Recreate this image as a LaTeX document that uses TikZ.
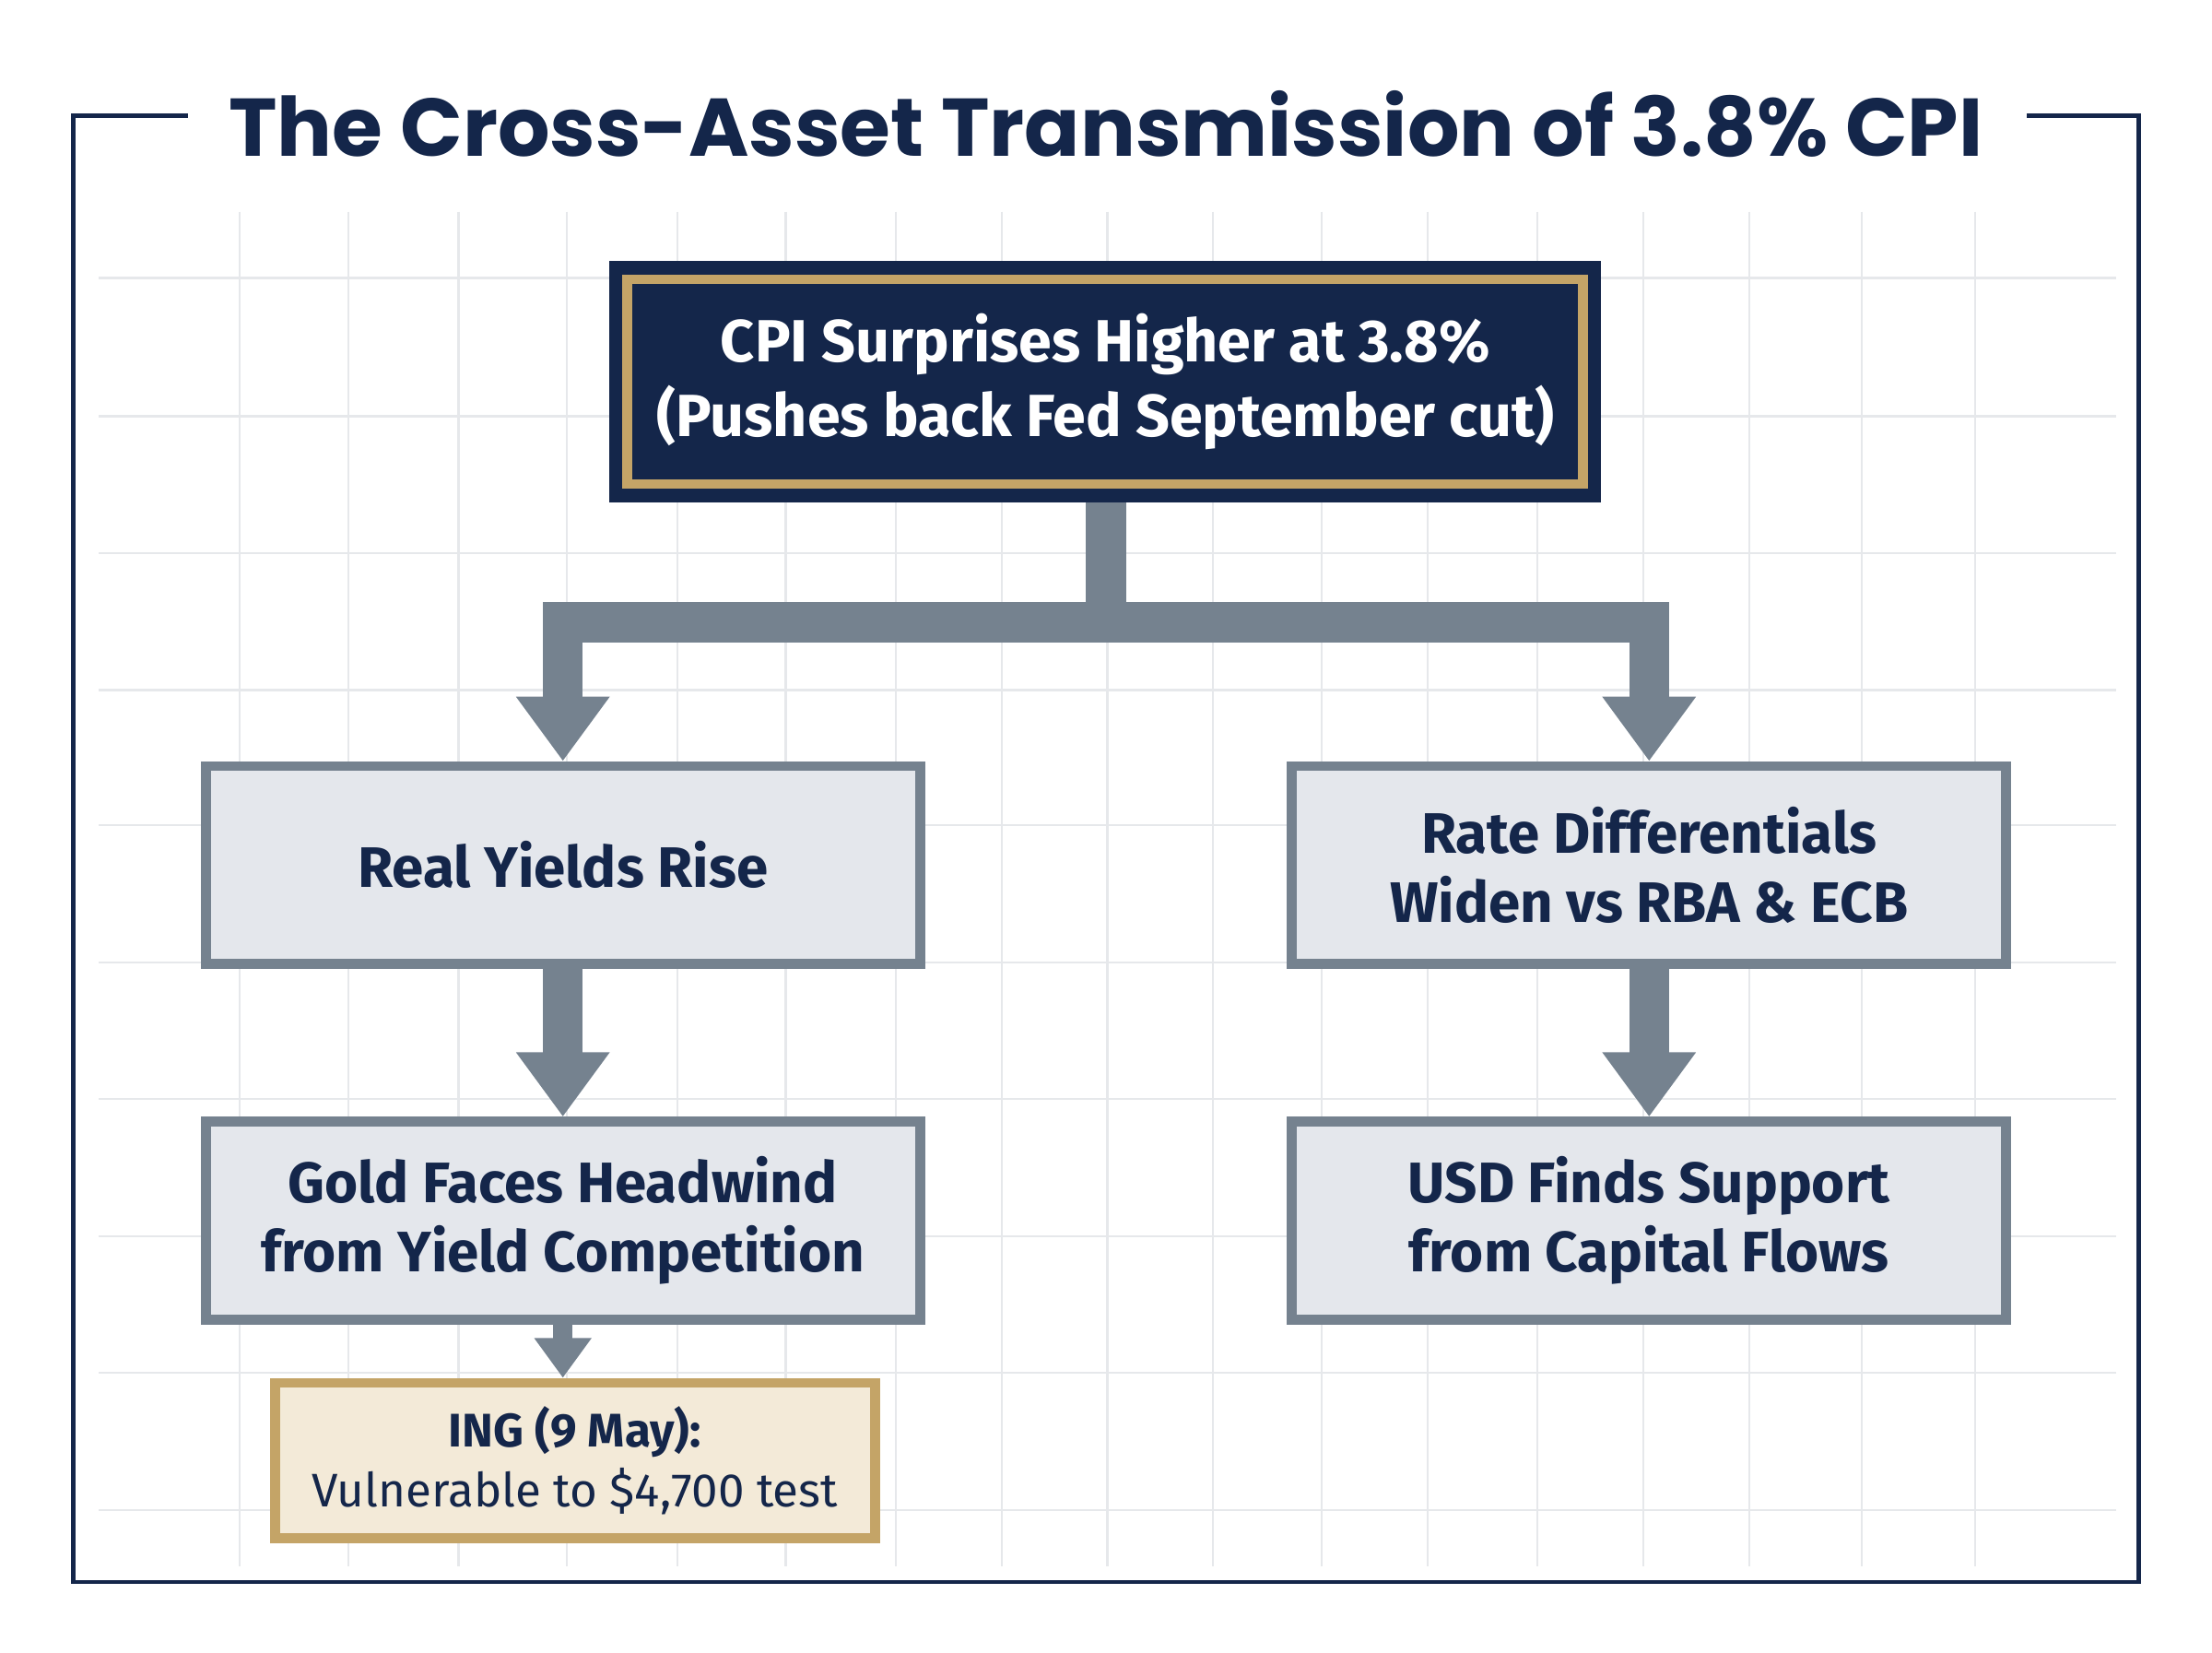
\documentclass[tikz,border=0pt]{standalone}
\usepackage{fontspec}
\setmainfont{Fira Sans}
\newfontfamily\titlefont{Poppins}
\usetikzlibrary{arrows.meta}
\definecolor{navy}{HTML}{14264A}
\definecolor{gold}{HTML}{C4A467}
\definecolor{steel}{HTML}{75828F}
\definecolor{boxfill}{HTML}{E4E7EC}
\definecolor{cream}{HTML}{F3EAD8}
\definecolor{gridc}{HTML}{E6E8EB}
\begin{document}
\begin{tikzpicture}[x=0.01cm,y=-0.01cm,
  midbox/.style={draw=steel,line width=2pt,fill=boxfill,minimum width=500\pgflinewidth,text=navy,font=\fontsize{11.5}{14}\selectfont\bfseries,align=center},
  flow/.style={draw=steel,line width=8pt},
  flowarrow/.style={flow,-{Triangle[width=18pt,length=13pt]}}]
\useasboundingbox (0,0) rectangle (1568,1171);
\fill[white] (0,0) rectangle (1568,1171);
% grid
\foreach \gx in {170,247,325,402,480,557,635,710,785,860,937,1012,1090,1165,1240,1320,1400}
  \draw[gridc,line width=0.4pt] (\gx,150) -- (\gx,1110);
\foreach \gy in {197,295,392,489,585,682,779,876,973,1070}
  \draw[gridc,line width=0.4pt] (70,\gy) -- (1500,\gy);
% frame
\draw[navy,line width=0.8pt] (133,82) -- (52,82) -- (52,1121) -- (1516,1121) -- (1516,82) -- (1437,82);
\node[text=navy,font=\titlefont\fontsize{16.5}{20}\selectfont\bfseries] (title) at (784,88) {The Cross-Asset Transmission of 3.8\% CPI};
% top box
\fill[navy] (432,185) rectangle (1135,356);
\node[draw=gold,line width=2pt,minimum width=6.77cm,minimum height=1.45cm,align=center,text=white,font=\fontsize{12}{15}\selectfont\bfseries] (top) at (783.5,270.5) {CPI Surprises Higher at 3.8\%\\(Pushes back Fed September cut)};
\coordinate (topb) at (784,356);
% mid boxes
\node[midbox,minimum width=5.06cm,minimum height=1.4cm] (ry) at (399,613) {Real Yields Rise};
\node[midbox,minimum width=5.06cm,minimum height=1.4cm] (rd) at (1169,613) {Rate Differentials\\Widen vs RBA \& ECB};
\node[midbox,minimum width=5.06cm,minimum height=1.4cm] (gold) at (399,865) {Gold Faces Headwind\\from Yield Competition};
\node[midbox,minimum width=5.06cm,minimum height=1.4cm] (usd) at (1169,865) {USD Finds Support\\from Capital Flows};
\node[draw=gold,line width=2pt,fill=cream,minimum width=4.25cm,minimum height=1.1cm,align=center,text=navy,font=\fontsize{9.5}{12}\selectfont] (ing) at (407.5,1035) {\textbf{ING (9 May):}\\Vulnerable to \$4,700 test};
% connectors
\coordinate (j) at (784,441);
\draw[flow] (topb) -- (j);
\draw[flow,line cap=rect] (399,441) -- (1169,441);
\draw[flowarrow] (399,437) -- (ry.north);
\draw[flowarrow] (1169,437) -- (rd.north);
\draw[flowarrow] (ry.south) -- (gold.north);
\draw[flowarrow] (rd.south) -- (usd.north);
\draw[draw=steel,line width=4pt,-{Triangle[width=11pt,length=8pt]}] (gold.south) -- (ing.north -| gold.south);
\end{tikzpicture}
\end{document}
